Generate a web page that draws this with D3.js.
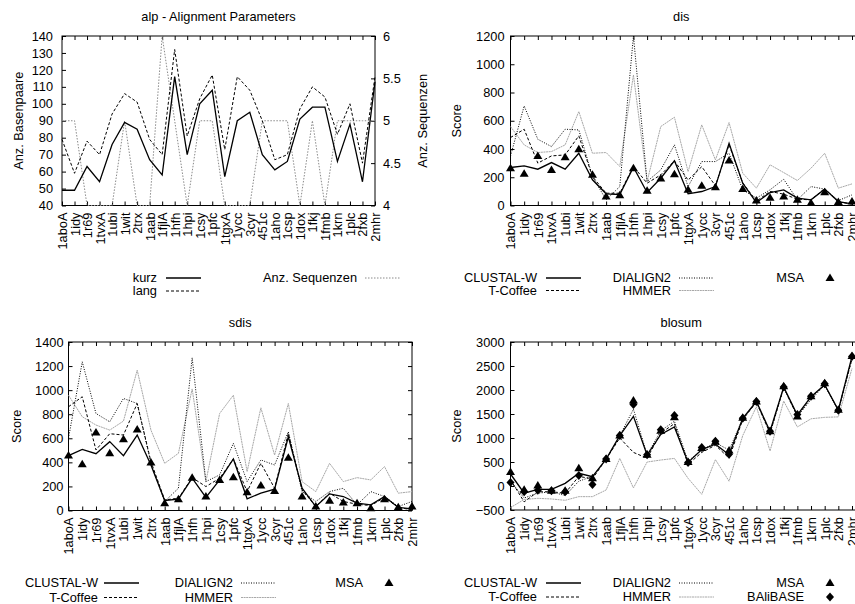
<!DOCTYPE html>
<html>
<head>
<meta charset="utf-8">
<script src="https://cdn.jsdelivr.net/npm/d3@7"></script>
<style>
    body { margin: 0; background: #fff; }
    svg { display: block; }
    svg text { font-family: "Liberation Sans", Arial, Helvetica, sans-serif; font-size: 12.8px; fill: #000; }
</style>
</head>
<body>
<svg id="chart" width="855" height="604"></svg>
<script>
// protein families on the x axis (same for all four plots)
const proteins = ["1aboA", "1idy", "1r69", "1tvxA", "1ubi", "1wit", "2trx", "1aab", "1fjlA", "1hfh", "1hpi", "1csy", "1pfc",
    "1tgxA", "1ycc", "3cyr", "451c", "1aho", "1csp", "1dox", "1fkj", "1fmb", "1krn", "1plc", "2fxb", "2mhr"];

// alp - alignment parameters
const alpKurz = [49, 49, 63, 54, 76, 89, 85, 67, 58, 116, 70, 100, 108, 57, 90, 95, 70, 61, 66, 91, 98, 98, 66, 88, 54, 113];
const alpLang = [79, 59, 78, 70, 94, 106, 101, 79, 70, 132, 81, 103, 117, 73, 116, 108, 90, 67, 70, 97, 110, 104, 82, 100, 65, 116];
const alpSequenzen = [5, 5, 4, 4, 4, 5, 4, 4, 6, 5, 4, 5, 5, 4, 4, 4, 5, 5, 5, 4, 5, 4, 5, 5, 5, 5];

// dis
const disClustal = [269, 281, 257, 304, 257, 370, 182, 83, 78, 271, 92, 193, 316, 83, 99, 134, 441, 158, 21, 92, 111, 52, 40, 116, 28, 12];
const disTCoffee = [481, 540, 300, 351, 358, 493, 205, 87, 87, 276, 158, 217, 316, 180, 275, 140, 430, 160, 30, 100, 80, 45, 40, 120, 25, 10];
const disDialign = [350, 705, 469, 417, 540, 535, 205, 40, 134, 1200, 170, 252, 429, 134, 311, 311, 370, 111, 52, 111, 186, 40, 134, 116, 35, 75];
const disHmmer = [559, 429, 375, 382, 429, 665, 370, 375, 276, 924, 170, 559, 625, 240, 571, 323, 587, 229, 123, 288, 233, 177, 264, 370, 123, 153];
const disMsa = [264, 224, 351, 252, 342, 398, 217, 64, 73, 264, 105, 191, 222, 111, 139, 130, 318, 116, 35, 54, 64, 40, 17, 94, 24, 28];

// sdis
const sdisClustal = [456, 508, 472, 572, 456, 627, 378, 83, 94, 268, 108, 254, 428, 97, 144, 177, 613, 185, 33, 138, 116, 61, 47, 116, 25, 14];
const sdisTCoffee = [862, 945, 503, 638, 627, 889, 406, 88, 102, 273, 199, 268, 428, 157, 392, 185, 641, 171, 33, 144, 75, 52, 41, 108, 25, 6];
const sdisDialign = [600, 1235, 806, 737, 931, 889, 392, 75, 185, 1268, 240, 296, 558, 240, 420, 378, 655, 157, 75, 157, 185, 47, 157, 116, 33, 75];
const sdisHmmer = [958, 779, 710, 668, 743, 1166, 668, 392, 475, 1010, 240, 806, 958, 323, 853, 461, 889, 240, 157, 392, 240, 273, 254, 365, 144, 157];
const sdisMsa = [456, 384, 649, 475, 591, 674, 398, 61, 94, 273, 116, 254, 276, 152, 207, 163, 439, 116, 33, 80, 66, 61, 19, 94, 28, 33];

// blosum
const blosumClustal = [250, -150, -70, -70, 55, 264, 194, 560, 1050, 1450, 645, 1075, 1230, 492, 760, 870, 650, 1410, 1760, 1140, 2060, 1480, 1860, 2110, 1580, 2700];
const blosumTCoffee = [130, -330, -120, -120, -150, 200, 150, 560, 1000, 700, 580, 1100, 1300, 450, 700, 850, 580, 1380, 1750, 1100, 2050, 1450, 1850, 2100, 1580, 2650];
const blosumDialign = [100, -250, -150, -120, -200, 100, 200, 550, 1050, 1600, 650, 1150, 1350, 520, 750, 900, 750, 1400, 1750, 1100, 2050, 1450, 1800, 2100, 1570, 2650];
const blosumHmmer = [-450, -280, -257, -270, -298, -222, -222, -83, 575, -40, 500, 541, 575, 160, -173, 550, 100, 1050, 1650, 730, 1770, 1230, 1400, 1430, 1440, 2450];
const blosumMsa = [290, -80, 10, -100, -100, 370, 160, 560, 1050, 1780, 650, 1150, 1430, 500, 790, 920, 740, 1420, 1760, 1140, 2080, 1450, 1870, 2140, 1590, 2710];
const blosumBali = [75, -120, -90, -100, -120, 220, 30, 560, 1050, 1700, 650, 1170, 1470, 490, 800, 930, 660, 1410, 1760, 1140, 2060, 1490, 1870, 2130, 1580, 2700];

// line styles, gnuplot like
const solid = { stroke: "#000", width: 1.3, dash: null };
const dashed = { stroke: "#000", width: 1, dash: "3,2" };
const dotted = { stroke: "#000", width: 1, dash: "1,1.5" };
const grey = { stroke: "#a8a8a8", width: 1, dash: "2,0.6" };
const greyDotted = { stroke: "#8a8a8a", width: 1, dash: "1.5,1.5" };

const triangle = "M0,-4.5L4.5,3L-4.5,3Z";
const diamond = "M0,-4.5L4,0L0,4.5L-4,0Z";

const svg = d3.select("#chart");

function plainAxis(sel) {
    sel.select(".domain").remove();
    sel.attr("font-size", null).attr("font-family", null);
}

function drawPanel(opt) {
    const g = svg.append("g");
    const x = d3.scalePoint().domain(proteins).range([opt.left, opt.right]);
    const y = d3.scaleLinear().domain(opt.yDomain).range([opt.bottom, opt.top]);

    // title
    g.append("text")
        .attr("x", (opt.left + opt.right) / 2)
        .attr("y", opt.top - 15)
        .attr("text-anchor", "middle")
        .text(opt.title);

    // y label
    g.append("text")
        .attr("transform", `translate(${opt.yLabelX},${(opt.top + opt.bottom) / 2}) rotate(-90)`)
        .attr("dy", "0.35em")
        .attr("text-anchor", "middle")
        .text(opt.yLabel);

    // bottom axis, names turned upright
    const bx = g.append("g")
        .attr("transform", `translate(0,${opt.bottom})`)
        .call(d3.axisBottom(x).tickSize(-4));
    plainAxis(bx);
    bx.selectAll("text")
        .attr("x", -7).attr("y", 0).attr("dy", "0.35em")
        .attr("transform", "rotate(-90)")
        .style("text-anchor", "end");

    const tx = g.append("g")
        .attr("transform", `translate(0,${opt.top})`)
        .call(d3.axisTop(x).tickSize(-4).tickFormat(""));
    plainAxis(tx);

    const ly = g.append("g")
        .attr("transform", `translate(${opt.left},0)`)
        .call(d3.axisLeft(y).tickValues(opt.yTicks).tickSize(-4).tickPadding(opt.pad).tickFormat(d3.format("d")));
    plainAxis(ly);

    if (opt.y2) {
        const y2 = d3.scaleLinear().domain(opt.y2.domain).range([opt.bottom, opt.top]);
        const ry = g.append("g")
            .attr("transform", `translate(${opt.right},0)`)
            .call(d3.axisRight(y2).tickValues(opt.y2.ticks).tickSize(-4).tickPadding(8).tickFormat(d => d));
        plainAxis(ry);
        g.append("text")
            .attr("transform", `translate(${opt.y2.labelX},${(opt.top + opt.bottom) / 2}) rotate(-90)`)
            .attr("dy", "0.35em")
            .attr("text-anchor", "middle")
            .text(opt.y2.label);
        opt.y2.scale = y2;
    } else {
        const ry = g.append("g")
            .attr("transform", `translate(${opt.frameRight},0)`)
            .call(d3.axisRight(y).tickValues(opt.yTicks).tickSize(-4).tickFormat(""));
        plainAxis(ry);
    }

    // frame
    g.append("rect")
        .attr("x", opt.left).attr("y", opt.top)
        .attr("width", opt.frameRight - opt.left)
        .attr("height", opt.bottom - opt.top)
        .attr("fill", "none").attr("stroke", "#000");

    // series lines
    opt.lines.forEach(s => {
        const ys = s.axis2 ? opt.y2.scale : y;
        const line = d3.line()
            .x((d, i) => x(proteins[i]))
            .y(d => ys(d));
        g.append("path")
            .datum(s.values)
            .attr("d", line)
            .attr("fill", "none")
            .attr("stroke", s.style.stroke)
            .attr("stroke-width", s.style.width)
            .attr("stroke-dasharray", s.style.dash);
    });

    // point markers
    (opt.points || []).forEach(s => {
        g.append("g").selectAll("path")
            .data(s.values)
            .join("path")
            .attr("transform", (d, i) => `translate(${x(proteins[i])},${y(d)})`)
            .attr("d", s.shape)
            .attr("fill", "#000");
    });

    // legend below the names
    opt.legend.forEach(e => {
        g.append("text")
            .attr("x", e.x).attr("y", e.y)
            .attr("dy", "0.35em")
            .attr("text-anchor", "end")
            .text(e.label);
        if (e.shape) {
            g.append("path")
                .attr("transform", `translate(${e.x + 26},${e.y})`)
                .attr("d", e.shape)
                .attr("fill", "#000");
        } else {
            g.append("line")
                .attr("x1", e.x + e.gap).attr("x2", e.x + e.gap + 35)
                .attr("y1", e.y).attr("y2", e.y)
                .attr("stroke", e.style.stroke)
                .attr("stroke-width", e.style.width)
                .attr("stroke-dasharray", e.style.dash);
        }
    });
}

function toolLegend(c1, c2, c3, r1, r2, gap, extra) {
    const items = [
        { label: "CLUSTAL-W", x: c1, y: r1, style: solid, gap: gap },
        { label: "T-Coffee", x: c1, y: r2, style: dashed, gap: gap },
        { label: "DIALIGN2", x: c2, y: r1, style: dotted, gap: 8 },
        { label: "HMMER", x: c2, y: r2, style: grey, gap: 8 },
        { label: "MSA", x: c3, y: r1, shape: triangle }
    ];
    if (extra) items.push({ label: "BAliBASE", x: c3, y: r2, shape: diamond });
    return items;
}

drawPanel({
    title: "alp - Alignment Parameters",
    left: 62, right: 375, frameRight: 375, top: 36, bottom: 205.5,
    yDomain: [40, 140], yTicks: d3.range(40, 141, 10), pad: 9,
    yLabel: "Anz. Basenpaare", yLabelX: 19,
    y2: { domain: [4, 6], ticks: [4, 4.5, 5, 5.5, 6], label: "Anz. Sequenzen", labelX: 423 },
    lines: [
        { values: alpSequenzen, style: greyDotted, axis2: true },
        { values: alpLang, style: dashed },
        { values: alpKurz, style: solid }
    ],
    legend: [
        { label: "kurz", x: 157, y: 278, style: solid, gap: 9 },
        { label: "lang", x: 157, y: 291, style: dashed, gap: 9 },
        { label: "Anz. Sequenzen", x: 357, y: 278, style: greyDotted, gap: 8 }
    ]
});

drawPanel({
    title: "dis",
    left: 510.5, right: 852, frameRight: 862, top: 36, bottom: 205.5,
    yDomain: [0, 1200], yTicks: d3.range(0, 1201, 200), pad: 6,
    yLabel: "Score", yLabelX: 457,
    lines: [
        { values: disHmmer, style: grey },
        { values: disDialign, style: dotted },
        { values: disTCoffee, style: dashed },
        { values: disClustal, style: solid }
    ],
    points: [{ values: disMsa, shape: triangle }],
    legend: toolLegend(537, 671, 804, 278, 290.5, 9, false)
});

drawPanel({
    title: "sdis",
    left: 68.5, right: 412, frameRight: 412, top: 342, bottom: 510.5,
    yDomain: [0, 1400], yTicks: d3.range(0, 1401, 200), pad: 5,
    yLabel: "Score", yLabelX: 17,
    lines: [
        { values: sdisHmmer, style: grey },
        { values: sdisDialign, style: dotted },
        { values: sdisTCoffee, style: dashed },
        { values: sdisClustal, style: solid }
    ],
    points: [{ values: sdisMsa, shape: triangle }],
    legend: toolLegend(98, 233, 363, 583, 597.5, 6, false)
});

drawPanel({
    title: "blosum",
    left: 510.5, right: 852, frameRight: 862, top: 342, bottom: 510,
    yDomain: [-500, 3000], yTicks: d3.range(-500, 3001, 500), pad: 6,
    yLabel: "Score", yLabelX: 457,
    lines: [
        { values: blosumHmmer, style: grey },
        { values: blosumDialign, style: dotted },
        { values: blosumTCoffee, style: dashed },
        { values: blosumClustal, style: solid }
    ],
    points: [
        { values: blosumMsa, shape: triangle },
        { values: blosumBali, shape: diamond }
    ],
    legend: toolLegend(537, 671, 804, 583, 597, 9, true)
});
</script>
</body>
</html>
